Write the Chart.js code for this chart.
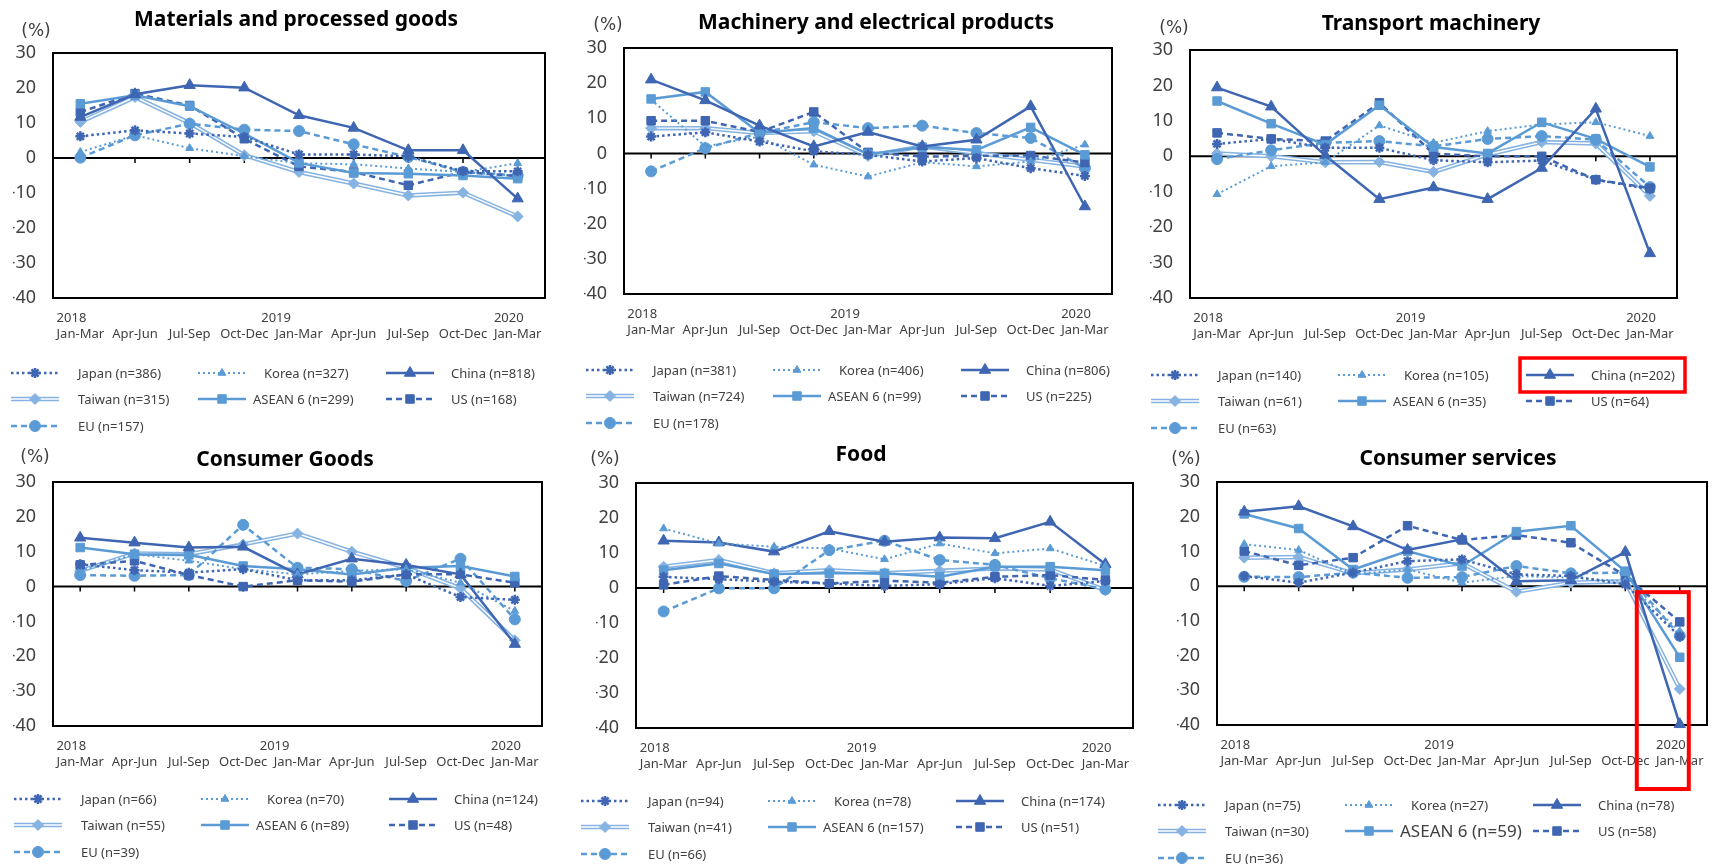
<!DOCTYPE html>
<html>
<head>
<meta charset="utf-8">
<script src="https://cdn.jsdelivr.net/npm/chart.js@4.4.0/dist/chart.umd.min.js"></script>
<style>
    body { margin: 0; background: #fff; width: 1719px; height: 864px; overflow: hidden; position: relative; }
    canvas { position: absolute; }
</style>
</head>
<body>
<script>
// x axis
const quarters = ["Jan-Mar", "Apr-Jun", "Jul-Sep", "Oct-Dec", "Jan-Mar", "Apr-Jun", "Jul-Sep", "Oct-Dec", "Jan-Mar"];
const years = ["2018", "", "", "", "2019", "", "", "", "2020"];
const regions = ["Japan", "Korea", "China", "Taiwan", "ASEAN 6", "US", "EU"];

// Materials and processed goods
const matJapan  = [6.2, 7.9, 7.0, 6.0, 1.0, 1.0, 0.5, -3.8, -3.8];
const matKorea  = [1.7, 6.5, 2.8, 0.5, -1.5, -1.8, -3.0, -4.0, -1.5];
const matChina  = [11.7, 18.2, 20.8, 20.1, 12.2, 8.6, 2.2, 2.2, -11.6];
const matTaiwan = [10.3, 17.4, 10.0, 0.8, -4.0, -7.3, -10.7, -9.9, -16.7];
const matAsean  = [15.5, 17.9, 14.8, 7.0, -1.4, -4.3, -4.5, -5.0, -5.9];
const matUS     = [13.1, 18.4, 15.0, 5.5, -2.4, -4.0, -7.8, -4.0, -5.2];
const matEU     = [0.1, 6.5, 9.8, 8.1, 7.7, 3.9, 0.3, -4.0, -5.0];
const matN      = [386, 327, 818, 315, 299, 168, 157];

// Machinery and electrical products
const machJapan  = [4.8, 6.0, 3.4, 0.6, -0.4, -2.3, -1.3, -4.2, -6.4];
const machKorea  = [15.3, 2.0, 4.8, -3.2, -6.6, -2.5, -3.7, -2.3, 2.5];
const machChina  = [21.0, 15.1, 7.9, 2.0, 6.1, 2.0, 3.9, 13.4, -15.1];
const machTaiwan = [7.2, 7.2, 5.8, 6.3, -0.7, 2.0, 0.1, -1.8, -3.7];
const machAsean  = [15.5, 17.5, 5.8, 7.2, -0.2, 1.8, 1.0, 7.4, -0.4];
const machUS     = [9.3, 9.3, 6.1, 11.8, 0.3, -0.9, -0.7, -0.6, -2.6];
const machEU     = [-5.1, 1.5, 5.8, 8.9, 7.2, 7.9, 5.8, 4.4, -4.2];
const machN      = [381, 406, 806, 724, 99, 225, 178];

// Transport machinery
const transJapan  = [3.5, 4.9, 2.4, 2.4, -1.1, -1.7, -1.2, -6.6, -9.3];
const transKorea  = [-10.7, -2.8, -1.7, 8.7, 3.8, 7.1, 9.0, 9.6, 5.7];
const transChina  = [19.4, 14.0, 0.2, -12.1, -8.8, -12.1, -3.3, 13.4, -27.4];
const transTaiwan = [0.8, 0.0, -1.7, -1.6, -4.4, 0.5, 4.0, 3.6, -11.2];
const transAsean  = [15.6, 9.2, 3.3, 14.4, 2.6, 0.8, 9.6, 4.9, -3.0];
const transUS     = [6.6, 4.9, 4.3, 15.1, 0.7, 0.0, 0.0, -6.6, -9.0];
const transEU     = [-0.8, 1.7, 3.8, 4.3, 2.8, 4.9, 5.7, 4.7, -8.7];
const transN      = [140, 105, 202, 61, 35, 64, 63];

// Consumer Goods
const consJapan  = [6.4, 4.7, 4.0, 5.0, 1.8, 1.8, 3.5, -3.0, -3.8];
const consKorea  = [4.5, 9.3, 7.4, 5.0, 3.5, 4.5, 5.0, 1.1, -7.0];
const consChina  = [14.0, 12.6, 11.2, 11.4, 3.5, 8.0, 6.2, 3.5, -16.5];
const consTaiwan = [4.5, 9.5, 9.3, 12.1, 15.2, 10.0, 5.4, -0.5, -15.4];
const consAsean  = [11.2, 9.3, 9.1, 5.9, 5.0, 3.5, 5.4, 5.9, 2.9];
const consUS     = [6.2, 7.4, 3.3, 0.0, 1.8, 1.4, 3.5, 3.5, 1.1];
const consEU     = [3.3, 3.1, 3.3, 17.7, 5.4, 5.0, 1.6, 8.0, -9.4];
const consN      = [66, 70, 124, 55, 89, 48, 39];

// Food
const foodJapan  = [3.2, 2.5, 1.8, 1.3, 0.6, 1.1, 2.8, 0.6, 2.0];
const foodKorea  = [17.0, 12.7, 11.8, 11.3, 8.2, 12.7, 9.9, 11.3, 6.3];
const foodChina  = [13.5, 13.0, 10.4, 16.2, 13.2, 14.4, 14.2, 18.9, 6.8];
const foodTaiwan = [6.1, 8.0, 4.2, 5.1, 4.2, 4.9, 5.6, 5.3, -0.6];
const foodAsean  = [5.1, 7.0, 4.0, 4.2, 4.2, 3.2, 6.1, 6.1, 5.1];
const foodUS     = [0.9, 3.4, 2.3, 1.3, 2.1, 1.5, 3.2, 3.7, 2.3];
const foodEU     = [-6.7, -0.1, -0.1, 10.8, 13.5, 8.0, 6.6, 2.8, -0.4];
const foodN      = [94, 78, 174, 41, 157, 51, 66];

// Consumer services
const servJapan  = [2.9, 1.0, 3.9, 7.2, 7.7, 3.4, 2.9, 0.5, -14.5];
const servKorea  = [12.1, 10.4, 3.4, 4.8, 1.0, 2.9, 2.4, 1.4, -13.0];
const servChina  = [21.4, 23.0, 17.2, 10.4, 13.5, 1.4, 1.7, 9.8, -39.8];
const servTaiwan = [8.2, 8.4, 3.7, 4.8, 6.6, -1.6, 1.0, 1.4, -29.6];
const servAsean  = [20.8, 16.6, 4.8, 10.1, 5.8, 15.7, 17.4, 4.3, -20.5];
const servUS     = [10.1, 6.0, 8.2, 17.4, 13.3, 14.7, 12.5, 3.0, -10.3];
const servEU     = [2.7, 2.6, 3.9, 2.4, 2.6, 5.8, 3.7, 3.9, -14.3];
const servN      = [75, 27, 78, 30, 59, 58, 36];

const DARK = "#3E66B2";
const MID = "#5B9BD5";
const LIGHT = "#86B3E2";
const TEXT = "#404040";
const COL_W = 573;             // column pitch on the page
const CW = 620, CH = 864;      // canvas size per panel (canvases overlap, transparent)
const Y_AXIS_W = 40, X_AXIS_H = 50;

// one style per region (same order as regions)
const seriesStyles = [
    { color: DARK, width: 2.5, dash: [2.5, 3], point: "star", radius: 5, pointBorder: 2.5 },
    { color: MID, width: 2, dash: [2, 3], point: "triangle", radius: 4.5, pointBorder: 1 },
    { color: DARK, width: 2.5, dash: [], point: "triangle", radius: 6.5, pointBorder: 1 },
    { color: LIGHT, width: 4.5, dash: [], point: "rectRot", radius: 5.5, pointBorder: 1, double: true },
    { color: MID, width: 2.5, dash: [], point: "rect", radius: 6, pointBorder: 1 },
    { color: DARK, width: 2.5, dash: [6, 4], point: "rect", radius: 6, pointBorder: 1 },
    { color: MID, width: 2.5, dash: [6, 4], point: "circle", radius: 5.5, pointBorder: 1 },
];

const panels = [
    { title: "Materials and processed goods", col: 0,
      series: [matJapan, matKorea, matChina, matTaiwan, matAsean, matUS, matEU], n: matN,
      area: [53, 53, 545, 298], titleAt: [296, 20], unitAt: [36, 32], legendAt: [11, 373] },
    { title: "Machinery and electrical products", col: 1,
      series: [machJapan, machKorea, machChina, machTaiwan, machAsean, machUS, machEU], n: machN,
      area: [624, 48, 1112, 294], titleAt: [876, 23], unitAt: [608, 26], legendAt: [586, 370] },
    { title: "Transport machinery", col: 2,
      series: [transJapan, transKorea, transChina, transTaiwan, transAsean, transUS, transEU], n: transN,
      area: [1190, 50, 1677, 298], titleAt: [1431, 24], unitAt: [1174, 29], legendAt: [1151, 375],
      mark: "legendChina" },
    { title: "Consumer Goods", col: 0,
      series: [consJapan, consKorea, consChina, consTaiwan, consAsean, consUS, consEU], n: consN,
      area: [53, 482, 542, 726], titleAt: [285, 460], unitAt: [35, 458], legendAt: [14, 799] },
    { title: "Food", col: 1,
      series: [foodJapan, foodKorea, foodChina, foodTaiwan, foodAsean, foodUS, foodEU], n: foodN,
      area: [636, 483, 1133, 728], titleAt: [861, 455], unitAt: [605, 460], legendAt: [581, 801] },
    { title: "Consumer services", col: 2,
      series: [servJapan, servKorea, servChina, servTaiwan, servAsean, servUS, servEU], n: servN,
      area: [1217, 482, 1707, 725], titleAt: [1458, 459], unitAt: [1186, 460], legendAt: [1158, 805],
      mark: "lastQuarter", bigLegend: 4 },
];

function buildDatasets(series) {
    const sets = [];
    series.forEach((data, i) => {
        const s = seriesStyles[i];
        const base = {
            label: regions[i],
            data: data,
            tension: 0,
            clip: false,
            borderColor: s.color,
            backgroundColor: s.color,
            borderWidth: s.width,
            borderDash: s.dash,
            pointStyle: s.point,
            pointRadius: s.radius,
            pointBackgroundColor: s.color,
            pointBorderColor: s.color,
            pointBorderWidth: s.pointBorder,
        };
        if (s.double) {
            // double line: thick light line, thin white core, markers on top
            sets.push({ ...base, pointRadius: 0, order: 3 });
            sets.push({ ...base, borderColor: "#fff", borderWidth: 1.4, pointRadius: 0, order: 2 });
            sets.push({ ...base, showLine: false, order: 1 });
        } else {
            sets.push(base);
        }
    });
    return sets;
}

function makeDecor(p, cx, cy) {
    return {
        id: "panelDecor",
        beforeDatasetsDraw(chart) {
            const { ctx, chartArea: a, scales: { x, y } } = chart;
            const y0 = y.getPixelForValue(0);
            ctx.save();
            ctx.strokeStyle = "#000";
            ctx.lineWidth = 2;
            ctx.strokeRect(a.left, a.top, a.right - a.left, a.bottom - a.top);
            ctx.beginPath();
            ctx.moveTo(a.left, y0);
            ctx.lineTo(a.right, y0);
            ctx.stroke();
            ctx.lineWidth = 1.5;
            ctx.beginPath();
            quarters.forEach((q, i) => {
                const px = x.getPixelForValue(i);
                ctx.moveTo(px, y0);
                ctx.lineTo(px, y0 + 5);
            });
            ctx.stroke();
            ctx.restore();
        },
        afterDraw(chart) {
            const { ctx, chartArea: a, scales: { x, y } } = chart;
            ctx.save();
            ctx.textBaseline = "middle";

            // title and unit
            ctx.fillStyle = "#000";
            ctx.font = "bold 21px 'Noto Sans'";
            ctx.textAlign = "center";
            ctx.fillText(p.title, p.titleAt[0] - cx, p.titleAt[1] - cy);
            ctx.fillStyle = TEXT;
            ctx.font = "17px 'DejaVu Sans'";
            ctx.fillText("(%)", p.unitAt[0] - cx, p.unitAt[1] - cy);

            // year labels, left aligned with the quarter label under them
            ctx.font = "13px 'Noto Sans'";
            const half = ctx.measureText("Jan-Mar").width / 2;
            ctx.textAlign = "left";
            years.forEach((yr, i) => {
                if (!yr) return;
                const shift = i === 4 ? 14 : 0;
                ctx.fillText(yr, x.getPixelForValue(i) - half - shift, a.bottom + 20);
            });

            // legend
            const ox = p.legendAt[0] - cx, oy = p.legendAt[1] - cy;
            const colLine = [0, 187, 375];
            const colText = [67, 253, 440];
            const rowY = [0, 26, 53];
            regions.forEach((name, i) => {
                const s = seriesStyles[i];
                const col = i % 3, row = Math.floor(i / 3);
                const lx = ox + colLine[col], ly = oy + rowY[row];
                ctx.strokeStyle = s.color;
                ctx.lineWidth = s.width;
                ctx.setLineDash(s.dash);
                ctx.beginPath();
                ctx.moveTo(lx, ly);
                ctx.lineTo(lx + 48, ly);
                ctx.stroke();
                ctx.setLineDash([]);
                if (s.double) {
                    ctx.strokeStyle = "#fff";
                    ctx.lineWidth = 1.4;
                    ctx.beginPath();
                    ctx.moveTo(lx, ly);
                    ctx.lineTo(lx + 48, ly);
                    ctx.stroke();
                }
                ctx.fillStyle = s.color;
                ctx.strokeStyle = s.color;
                ctx.lineWidth = s.pointBorder;
                Chart.helpers.drawPoint(ctx, { pointStyle: s.point, radius: s.radius, rotation: 0, borderWidth: s.pointBorder }, lx + 24, ly);

                let tx = ox + colText[col];
                if (i === 4) tx = ox + 242;
                ctx.fillStyle = TEXT;
                ctx.font = p.bigLegend === i ? "17px 'Noto Sans'" : "13px 'Noto Sans'";
                ctx.textAlign = "left";
                ctx.fillText(`${name} (n=${p.n[i]})`, tx, ly + 1);
            });

            // red highlight boxes
            ctx.strokeStyle = "#FF0000";
            if (p.mark === "legendChina") {
                ctx.lineWidth = 3.5;
                ctx.strokeRect(ox + 369, oy - 17, 165, 34);
            }
            if (p.mark === "lastQuarter") {
                const px = x.getPixelForValue(8);
                const y0 = y.getPixelForValue(0);
                ctx.lineWidth = 4;
                ctx.strokeRect(px - 43, y0 + 6, 52, a.bottom + 64 - (y0 + 6));
            }
            ctx.restore();
        },
    };
}

panels.forEach((p) => {
    const cx = p.col * COL_W, cy = 0;
    const canvas = document.createElement("canvas");
    canvas.width = CW;
    canvas.height = CH;
    canvas.style.left = cx + "px";
    canvas.style.top = cy + "px";
    document.body.appendChild(canvas);
    const [L, T, R, B] = p.area;

    new Chart(canvas, {
        type: "line",
        data: { labels: quarters, datasets: buildDatasets(p.series) },
        options: {
            responsive: false,
            animation: false,
            devicePixelRatio: 1,
            layout: {
                padding: {
                    left: L - cx - Y_AXIS_W,
                    right: cx + CW - R,
                    top: T - cy,
                    bottom: cy + CH - B - X_AXIS_H,
                },
            },
            plugins: {
                legend: { display: false },
                tooltip: { enabled: false },
            },
            scales: {
                x: {
                    offset: true,
                    grid: { display: false, drawTicks: false },
                    border: { display: false },
                    ticks: {
                        color: TEXT,
                        font: { family: "Noto Sans", size: 13 },
                        padding: 28,
                        maxRotation: 0,
                        autoSkip: false,
                    },
                    afterFit: (scale) => { scale.height = X_AXIS_H; },
                },
                y: {
                    min: -40,
                    max: 30,
                    grid: { display: false, drawTicks: false },
                    border: { display: false },
                    ticks: {
                        stepSize: 10,
                        color: TEXT,
                        font: { family: "Noto Sans", size: 18 },
                        padding: 17,
                        callback: (v) => String(v),
                    },
                    afterFit: (scale) => { scale.width = Y_AXIS_W; },
                },
            },
        },
        plugins: [makeDecor(p, cx, cy)],
    });
});
</script>
</body>
</html>
